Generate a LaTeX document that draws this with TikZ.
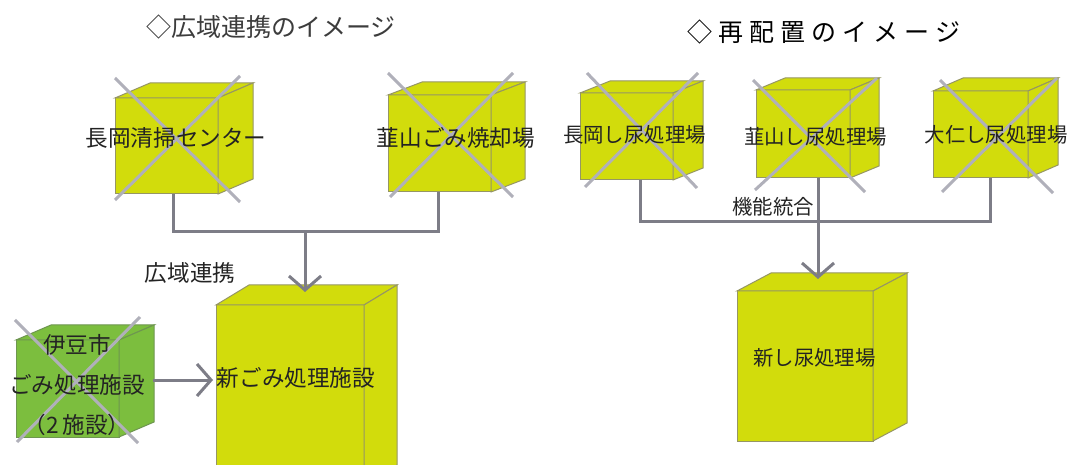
\documentclass[tikz,border=0pt]{standalone}
\usepackage{fontspec}
\setmainfont{Noto Sans CJK JP}
\usetikzlibrary{arrows.meta,calc}
\definecolor{cubey}{RGB}{210,220,12}
\definecolor{cubeg}{RGB}{124,190,62}
\definecolor{edgey}{RGB}{150,150,100}
\definecolor{edgeg}{RGB}{110,150,80}
\definecolor{crossc}{RGB}{176,176,186}
\definecolor{connc}{RGB}{125,125,135}
\definecolor{textc}{RGB}{35,35,35}
\definecolor{titlec}{RGB}{60,60,60}
\newcommand\cubefaces[5]{%
  \filldraw[fill=#4,draw=#5,line width=1] (#1.north west) -- ++(#2,#3) -- ($(#1.north east)+(#2,#3)$) -- (#1.north east) -- cycle;
  \filldraw[fill=#4,draw=#5,line width=1] (#1.north east) -- ++(#2,#3) -- ($(#1.south east)+(#2,#3)$) -- (#1.south east) -- cycle;
}
\begin{document}
\begin{tikzpicture}[x=1pt,y=-1pt,
  face/.style={draw=edgey,fill=cubey,line width=1,inner sep=0,outer sep=0},
  gface/.style={draw=edgeg,fill=cubeg,line width=1,inner sep=0,outer sep=0},
  cross/.style={draw=crossc,line width=3},
  conn/.style={draw=connc,line width=3},
  arr/.style={conn,-{Straight Barb[length=14pt,width=32pt]}},
  big/.style={font=\fontsize{22.6}{27}\selectfont,text=textc,inner sep=0},
  small/.style={font=\fontsize{20.4}{24}\selectfont,text=textc,inner sep=0}]
\useasboundingbox[fill=white] (0,0) rectangle (1072,465);

% titles
\node[font=\fontsize{25}{30}\selectfont,text=titlec,inner sep=0] (t1) at (271,27) {◇広域連携のイメージ};
\node[font=\fontsize{25}{30}\selectfont\addfontfeatures{LetterSpace=24},text=black,inner sep=0] (t2) at (824,32) {◇再配置のイメージ};

% ---------- left ----------
\node[face,minimum width=103,minimum height=96] (A) at (166.5,146) {};
\cubefaces{A}{35}{-15}{cubey}{edgey}
\node[face,minimum width=103,minimum height=97] (B) at (439.5,143.5) {};
\cubefaces{B}{34}{-13}{cubey}{edgey}
\node[face,minimum width=148,minimum height=180] (C) at (290,395) {};
\cubefaces{C}{33}{-20}{cubey}{edgey}
\node[gface,minimum width=103,minimum height=97] (D) at (67.5,388.5) {};
\cubefaces{D}{35}{-15}{cubeg}{edgeg}

\draw[cross] (115,78) -- (240,202);
\draw[cross] (240,76) -- (115,200);
\draw[cross] (388,73) -- (513,197);
\draw[cross] (513,73) -- (390,197);
\draw[cross] (15,320) -- (138,443);
\draw[cross] (140,317) -- (17,442);

\node[big] (tA) at (176,138) {長岡清掃センター};
\node[big] (tB) at (456,138) {韮山ごみ焼却場};
\node[big] (tC) at (296,378) {新ごみ処理施設};
\node[big] (tD1) at (77,345) {伊豆市};
\node[big] (tD2) at (77,385) {ごみ処理施設};
\node[big] (tD3) at (77,425) {（2\,施設）};
\node[big] (tL) at (190,273) {広域連携};

\coordinate (jl) at (305,232);
\coordinate (ctop) at (305,292);
\coordinate (dout) at (153,380);
\coordinate (cin) at (213,380);
\draw[conn] ([xshift=6.5pt]A.south) |- (jl) -| ([xshift=-1.5pt]B.south);
\draw[arr] (jl) -- (ctop);
\draw[arr] (dout) -- (cin);

% ---------- right ----------
\node[face,minimum width=93,minimum height=87] (E) at (626.5,136.5) {};
\cubefaces{E}{30}{-12}{cubey}{edgey}
\node[face,minimum width=94,minimum height=88] (F) at (803,134) {};
\cubefaces{F}{29}{-12}{cubey}{edgey}
\node[face,minimum width=95,minimum height=87] (G) at (980.5,134.5) {};
\cubefaces{G}{30}{-13}{cubey}{edgey}
\node[face,minimum width=136,minimum height=150] (H) at (805,366) {};
\cubefaces{H}{34}{-18}{cubey}{edgey}

\draw[cross] (587,73) -- (697,188);
\draw[cross] (698,73) -- (585,187);
\draw[cross] (753,80) -- (865,192);
\draw[cross] (877,78) -- (755,190);
\draw[cross] (940,80) -- (1053,193);
\draw[cross] (1057,78) -- (942,192);

\node[small] (tE) at (634.5,135) {長岡し尿処理場};
\node[small] (tF) at (815.5,137) {韮山し尿処理場};
\node[small] (tG) at (996,135) {大仁し尿処理場};
\node[small] (tH) at (814.5,358) {新し尿処理場};
\node[small] (tR) at (773,207) {機能統合};

\coordinate (jr) at (818,222);
\coordinate (htop) at (818,279);
\draw[conn] ([xshift=13.5pt]E.south) |- (jr) -| ([xshift=9.5pt]G.south);
\draw[conn] ([xshift=15pt]F.south) -- (jr);
\draw[arr] (jr) -- (htop);
\end{tikzpicture}
\end{document}
